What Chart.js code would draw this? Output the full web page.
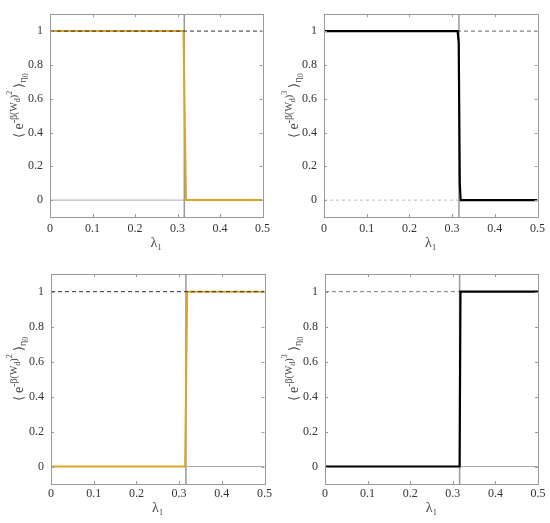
<!DOCTYPE html>
<html>
<head>
<meta charset="utf-8">
<script src="https://cdn.jsdelivr.net/npm/chart.js@4.4.1/dist/chart.umd.min.js"></script>
<style>
  body { margin: 0; background: #fff; }
  .panel { position: absolute; }
</style>
</head>
<body>
<div class="panel" style="left:0;top:0;width:275px;height:260px"><canvas id="c1"></canvas></div>
<div class="panel" style="left:275px;top:0;width:275px;height:260px"><canvas id="c2"></canvas></div>
<div class="panel" style="left:0;top:260px;width:275px;height:263px"><canvas id="c3"></canvas></div>
<div class="panel" style="left:275px;top:260px;width:275px;height:263px"><canvas id="c4"></canvas></div>
<script>
// axis ticks
const xTicks = [0, 0.1, 0.2, 0.3, 0.4, 0.5];
const yTicks = [0, 0.2, 0.4, 0.6, 0.8, 1];

// critical lambda (vertical line) and reference lines
const lambdaC = 0.316;
const refX = [0, 0.5];
const oneY = [1, 1];
const zeroY = [0, 0];
const vertY = [-0.1, 1.1];

// top-left: <e^-b(W_d)^2>, decreasing
const tlX = [0, 0.314, 0.320, 0.5];
const tlY = [1, 1, 0, 0];
// top-right: <e^-b(W_d)^3>, decreasing
const trX = [0, 0.313, 0.3155, 0.318, 0.320, 0.5];
const trY = [1, 1, 0.93, 0.1, 0, 0];
// bottom-left: increasing
const blX = [0, 0.314, 0.319, 0.5];
const blY = [0, 0, 1, 1];
// bottom-right: increasing
const brX = [0, 0.316, 0.318, 0.5];
const brY = [0, 0, 1, 1];

const pts = (xs, ys) => xs.map((x, i) => ({ x: x, y: ys[i] }));
const serif = "'Liberation Serif', 'Times New Roman', serif";

function line(xs, ys, color, width, dash, order) {
    return {
        data: pts(xs, ys),
        borderColor: color,
        borderWidth: width,
        borderDash: dash || [],
        pointRadius: 0,
        fill: false,
        tension: 0,
        order: order
    };
}

// box around the axes with inward ticks, like matlab
const boxPlugin = {
    id: 'box',
    afterDraw(chart) {
        const ctx = chart.ctx;
        const a = chart.chartArea;
        const xs = chart.scales.x, ys = chart.scales.y;
        ctx.save();
        ctx.strokeStyle = '#9a9a9a';
        ctx.lineWidth = 1;
        ctx.strokeRect(Math.round(a.left) + 0.5, Math.round(a.top) + 0.5,
            Math.round(a.right - a.left), Math.round(a.bottom - a.top));
        ctx.beginPath();
        xTicks.forEach(v => {
            const px = Math.round(xs.getPixelForValue(v)) + 0.5;
            ctx.moveTo(px, a.bottom); ctx.lineTo(px, a.bottom - 3);
            ctx.moveTo(px, a.top); ctx.lineTo(px, a.top + 3);
        });
        yTicks.forEach(v => {
            const py = Math.round(ys.getPixelForValue(v)) + 0.5;
            ctx.moveTo(a.left, py); ctx.lineTo(a.left + 3, py);
            ctx.moveTo(a.right, py); ctx.lineTo(a.right - 3, py);
        });
        ctx.stroke();
        ctx.restore();
    }
};

// y label with super/subscripts, drawn rotated
const yTitlePlugin = {
    id: 'ytitle',
    afterDraw(chart, args, opts) {
        const ctx = chart.ctx;
        const a = chart.chartArea;
        const parts = [
            { t: '\u27E8 ', s: 13, dy: 0 },
            { t: 'e', s: 14, dy: 0 },
            { t: '-\u03B2(W', s: 10, dy: -6 },
            { t: 'd', s: 8, dy: -3 },
            { t: ')', s: 10, dy: -6 },
            { t: opts.exp, s: 8, dy: -11 },
            { t: ' \u27E9', s: 13, dy: 0 },
            { t: '\u03B7', s: 10, dy: 3 },
            { t: '0', s: 8, dy: 5 }
        ];
        ctx.save();
        let total = 0;
        parts.forEach(p => {
            ctx.font = p.s + 'px ' + serif;
            p.w = ctx.measureText(p.t).width;
            total += p.w;
        });
        ctx.translate(opts.x, (a.top + a.bottom) / 2 - 10);
        ctx.rotate(-Math.PI / 2);
        ctx.fillStyle = '#444';
        ctx.textBaseline = 'alphabetic';
        let x = -total / 2;
        parts.forEach(p => {
            ctx.font = p.s + 'px ' + serif;
            ctx.fillText(p.t, x, p.dy);
            x += p.w;
        });
        ctx.restore();
    }
};

function makeChart(id, datasets, lay) {
    new Chart(document.getElementById(id), {
        type: 'line',
        data: { datasets: datasets },
        options: {
            responsive: true,
            maintainAspectRatio: false,
            animation: false,
            layout: { padding: { top: lay.top, right: lay.right, left: 0, bottom: 0 } },
            plugins: {
                legend: { display: false },
                tooltip: { enabled: false },
                ytitle: { exp: lay.exp, x: 23 }
            },
            scales: {
                x: {
                    type: 'linear',
                    min: 0,
                    max: 0.5,
                    afterBuildTicks: s => { s.ticks = xTicks.map(v => ({ value: v })); },
                    afterFit: s => { s.height = lay.xh; },
                    grid: { display: false, drawTicks: false },
                    border: { display: false },
                    ticks: {
                        padding: lay.tickPad,
                        color: '#333',
                        font: { family: serif, size: 12 },
                        maxRotation: 0,
                        callback: v => String(v)
                    },
                    title: {
                        display: true,
                        text: '\u03BB\u2081',
                        color: '#444',
                        font: { family: serif, size: 14 },
                        padding: { top: 0, bottom: lay.titlePad }
                    }
                },
                y: {
                    type: 'linear',
                    min: -0.1,
                    max: 1.1,
                    afterBuildTicks: s => { s.ticks = yTicks.map(v => ({ value: v })); },
                    afterFit: s => { s.width = lay.yw; },
                    grid: { display: false, drawTicks: false },
                    border: { display: false },
                    ticks: {
                        padding: 7,
                        color: '#333',
                        font: { family: serif, size: 12 },
                        callback: v => String(v)
                    }
                }
            }
        },
        plugins: [boxPlugin, yTitlePlugin]
    });
}

const orange = '#DDA528';

makeChart('c1', [
    line(refX, oneY, '#333', 1, [4, 3], 0),
    line(tlX, tlY, orange, 2, null, 1),
    line(refX, zeroY, '#aaa', 1, null, 2),
    line([lambdaC, lambdaC], vertY, '#999', 1.5, null, 3)
], { top: 4, right: 10, xh: 43, yw: 50, tickPad: 5, titlePad: 8, exp: '2' });

makeChart('c2', [
    line(trX, trY, '#000', 2.2, null, 0),
    line(refX, oneY, '#666', 1, [4, 3], 1),
    line(refX, zeroY, '#bbb', 1, [3, 3], 2),
    line([lambdaC, lambdaC], vertY, '#999', 1.5, null, 3)
], { top: 4, right: 12, xh: 43, yw: 49, tickPad: 5, titlePad: 8, exp: '3' });

makeChart('c3', [
    line(refX, oneY, '#333', 1, [4, 3], 0),
    line(blX, blY, orange, 2, null, 1),
    line(refX, zeroY, '#aaa', 1, null, 2),
    line([lambdaC, lambdaC], vertY, '#999', 1.5, null, 3)
], { top: 13, right: 10, xh: 39, yw: 51, tickPad: 3, titlePad: 6, exp: '2' });

makeChart('c4', [
    line(brX, brY, '#000', 2.2, null, 0),
    line(refX, oneY, '#777', 1, [4, 3], 1),
    line(refX, zeroY, '#aaa', 1, null, 2),
    line([lambdaC, lambdaC], vertY, '#999', 1.5, null, 3)
], { top: 13, right: 12, xh: 39, yw: 50, tickPad: 3, titlePad: 6, exp: '3' });
</script>
</body>
</html>
